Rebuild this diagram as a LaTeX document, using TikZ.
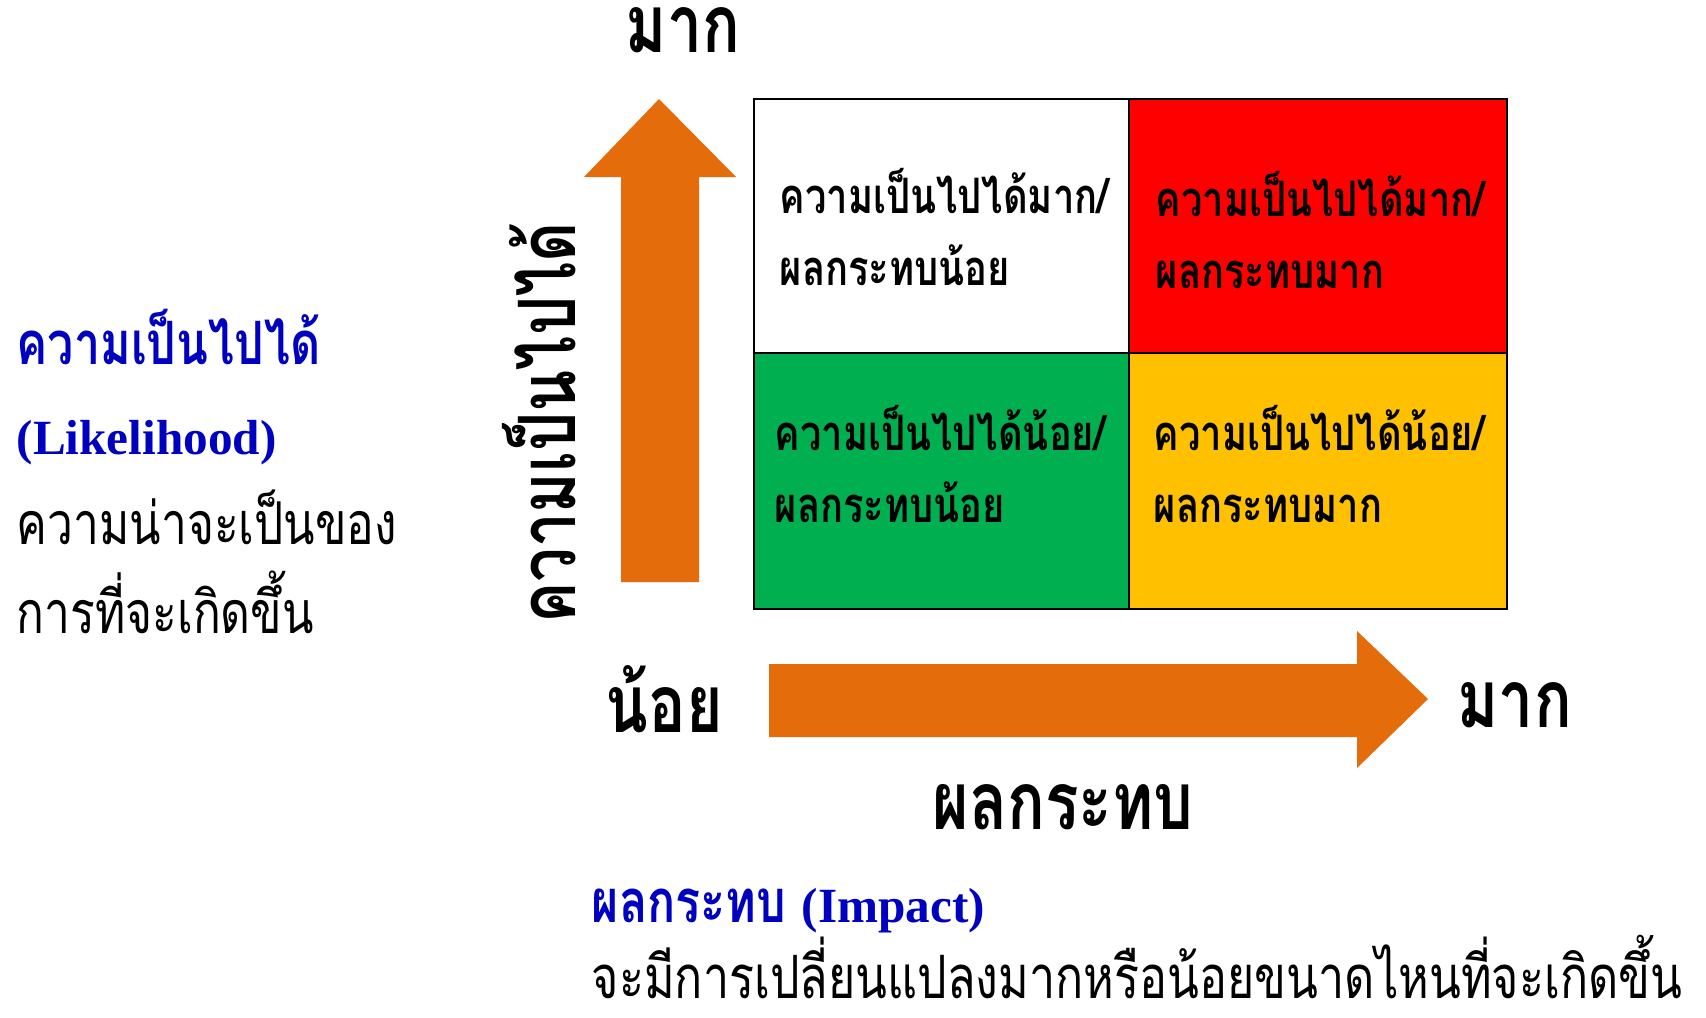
\documentclass[tikz,border=0pt]{standalone}
\usepackage{fontspec}
\setmainfont{Liberation Serif}
\newfontfamily\thaifont[Script=Thai, FakeStretch=0.78]{Loma}

\definecolor{arroworange}{HTML}{E46C0A}
\definecolor{riskred}{HTML}{FF0000}
\definecolor{riskgreen}{HTML}{00B050}
\definecolor{riskamber}{HTML}{FFC000}
\definecolor{noteblue}{HTML}{0000C0}

\begin{document}
\begin{tikzpicture}[x=0.01cm, y=-0.01cm, line join=miter,
  celltext/.style={anchor=base west, align=left, inner sep=0pt,
    font=\thaifont\bfseries\fontsize{13.9pt}{20.4pt}\selectfont},
  axisend/.style={anchor=base, inner sep=0pt,
    font=\thaifont\bfseries\fontsize{22.8pt}{26pt}\selectfont},
  notetext/.style={anchor=base west, inner sep=0pt,
    font=\thaifont\fontsize{16.8pt}{22pt}\selectfont}]

\useasboundingbox (0,0) rectangle (1706,1017);

% Arrows
\fill[arroworange] (621,582) -- (621,177) -- (584,177) -- (659,99)
  -- (736,177) -- (699,177) -- (699,582) -- cycle;
\fill[arroworange] (769,664) -- (1357,664) -- (1357,631) -- (1428,699)
  -- (1357,768) -- (1357,737) -- (769,737) -- cycle;

% Risk matrix
\draw[line width=0.025cm, fill=white] (754,99) rectangle (1129,353);
\draw[line width=0.025cm, fill=riskred] (1129,99) rectangle (1507,353);
\draw[line width=0.025cm, fill=riskgreen] (754,353) rectangle (1129,609);
\draw[line width=0.025cm, fill=riskamber] (1129,353) rectangle (1507,609);

\node[celltext] (highlow) at (779,285) {ความเป็นไปได้มาก/\\ผลกระทบน้อย};
\node[celltext] (highhigh) at (1155,288) {ความเป็นไปได้มาก/\\ผลกระทบมาก};
\node[celltext] (lowlow) at (774,522) {ความเป็นไปได้น้อย/\\ผลกระทบน้อย};
\node[celltext] (lowhigh) at (1153,522) {ความเป็นไปได้น้อย/\\ผลกระทบมาก};

% Axis labels
\node[axisend] (ytop) at (683,52) {มาก};
\node[axisend, anchor=base west] (xlow) at (605,732) {น้อย};
\node[axisend, anchor=base west] (xhigh) at (1457,727) {มาก};
\node[axisend, rotate=90, font=\thaifont\bfseries\fontsize{22.5pt}{28pt}\selectfont]
  (ylabel) at (575,423) {ความเป็นไปได้};
\node[axisend, font=\thaifont\bfseries\fontsize{22.8pt}{28pt}\selectfont]
  (xlabel) at (1063,829) {ผลกระทบ};

% Notes
\node[notetext, text=noteblue, font=\thaifont\bfseries\fontsize{17pt}{22pt}\selectfont]
  (likeli) at (16,364) {ความเป็นไปได้};
\node[notetext, text=noteblue, font=\bfseries\fontsize{14pt}{18pt}\selectfont]
  (likelien) at (16,454) {(Likelihood)};
\node[notetext] (likeli1) at (16,544) {ความน่าจะเป็นของ};
\node[notetext] (likeli2) at (16,633) {การที่จะเกิดขึ้น};
\node[notetext, text=noteblue, font=\thaifont\bfseries\fontsize{17pt}{22pt}\selectfont]
  (impact) at (591,922) {ผลกระทบ {\rmfamily\fontsize{14pt}{18pt}\selectfont(Impact)}};
\node[notetext, font=\thaifont\fontsize{17pt}{22pt}\selectfont]
  (impact1) at (591,998) {จะมีการเปลี่ยนแปลงมากหรือน้อยขนาดไหนที่จะเกิดขึ้น};

\end{tikzpicture}
\end{document}
